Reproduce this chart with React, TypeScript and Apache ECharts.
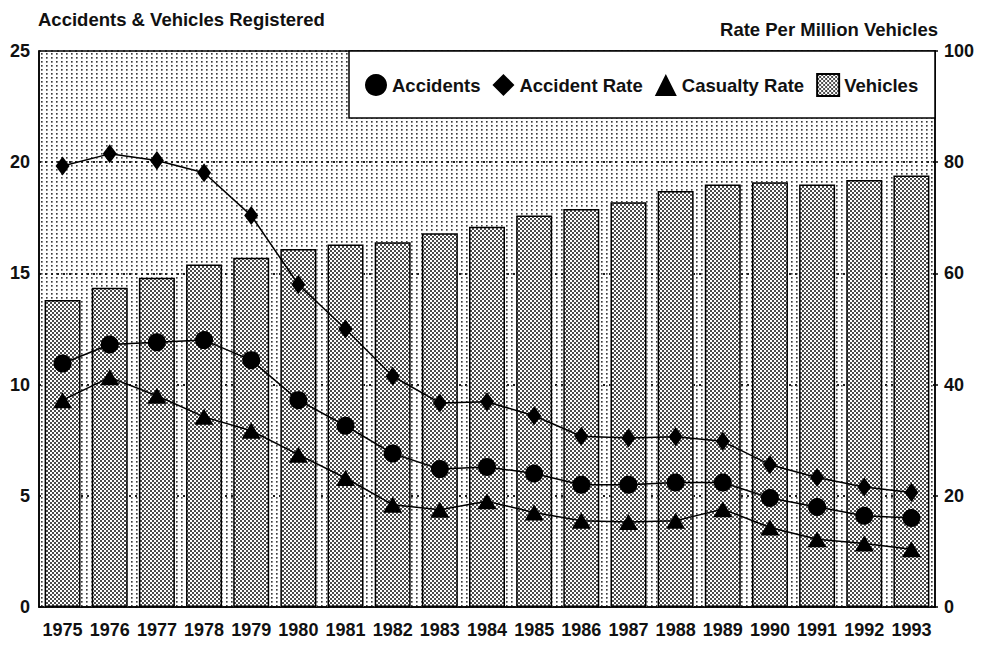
import React, { useEffect, useRef } from "react";
import * as echarts from "echarts";

const years = ["1975", "1976", "1977", "1978", "1979", "1980", "1981", "1982", "1983", "1984", "1985", "1986", "1987", "1988", "1989", "1990", "1991", "1992", "1993"];
const vehicles = [13.8, 14.35, 14.8, 15.4, 15.7, 16.1, 16.3, 16.4, 16.8, 17.1, 17.6, 17.9, 18.2, 18.7, 19.0, 19.1, 19.0, 19.2, 19.4];
const accidents = [10.95, 11.8, 11.9, 12.0, 11.1, 9.3, 8.15, 6.9, 6.2, 6.3, 6.0, 5.5, 5.5, 5.6, 5.6, 4.9, 4.5, 4.1, 4.0];
const accidentRate = [79.3, 81.5, 80.3, 78.1, 70.4, 58.0, 50.0, 41.5, 36.7, 36.9, 34.4, 30.7, 30.4, 30.6, 29.8, 25.6, 23.3, 21.6, 20.6];
const casualtyRate = [37.2, 41.3, 38.0, 34.2, 31.7, 27.4, 23.2, 18.4, 17.5, 19.0, 17.0, 15.5, 15.3, 15.5, 17.6, 14.3, 12.2, 11.4, 10.4];
const leftAxis = { min: 0, max: 25, interval: 5 };
const rightAxis = { min: 0, max: 100, interval: 20 };
const legendNames = ["Accidents", "Accident Rate", "Casualty Rate", "Vehicles"];
const titleLeft = "Accidents & Vehicles Registered";
const titleRight = "Rate Per Million Vehicles";

const FONT = "'Liberation Sans', Arial, Helvetica, sans-serif";

function makePattern(w: number, h: number, dots: number[][], size: number, color: string) {
  const c = document.createElement("canvas");
  c.width = w;
  c.height = h;
  const ctx = c.getContext("2d")!;
  ctx.fillStyle = "#ffffff";
  ctx.fillRect(0, 0, w, h);
  ctx.fillStyle = color;
  dots.forEach(([x, y]) => {
    ctx.beginPath();
    ctx.arc(x + size / 2, y + size / 2, size / 2, 0, Math.PI * 2);
    ctx.fill();
  });
  return { image: c, repeat: "repeat", imageWidth: w, imageHeight: h } as any;
}

export default function App() {
  const ref = useRef<HTMLDivElement>(null);
  useEffect(() => {
    if (!ref.current) return;
    const chart = echarts.init(ref.current, null, { renderer: "svg" });
    const bgPattern = makePattern(5, 4, [[1, 1]], 1.7, "#111");
    const barPattern = makePattern(4, 4, [[0, 0], [2, 2]], 2.0, "#111");
    const label = { fontFamily: FONT, fontWeight: "bold" as const, fontSize: 18, color: "#111" };
    const option: any = {
      animation: false,
      backgroundColor: "#ffffff",
      title: [
        { text: titleLeft, left: 38, top: 10, padding: 0, textStyle: { ...label, fontSize: 18.5 } },
        { text: titleRight, right: 48, top: 20, padding: 0, textStyle: { ...label, fontSize: 18.5 } },
      ],
      grid: {
        left: 39,
        right: 51,
        top: 51,
        bottom: 39,
        show: true,
        backgroundColor: bgPattern,
        borderColor: "#000",
        borderWidth: 1.5,
      },
      graphic: [
        {
          type: "rect",
          z: 10,
          shape: { x: 349, y: 51, width: 586, height: 67 },
          style: { fill: "#fff", stroke: "#000", lineWidth: 1.5 },
        },
      ],
      legend: {
        left: 365,
        top: 73,
        padding: 0,
        z: 20,
        itemWidth: 22,
        itemHeight: 22,
        itemGap: 12,
        selectedMode: false,
        textStyle: { ...label, fontSize: 18.5, padding: [2, 0, 0, 0] },
        data: [
          { name: legendNames[0], icon: "circle" },
          { name: legendNames[1], icon: "diamond" },
          { name: legendNames[2], icon: "triangle" },
          { name: legendNames[3], icon: "rect" },
        ],
      },
      xAxis: {
        type: "category",
        data: years,
        axisLine: { show: true, lineStyle: { color: "#000", width: 1.5 } },
        axisTick: { show: false },
        axisLabel: { ...label, interval: 0, margin: 14 },
        splitLine: { show: false },
      },
      yAxis: [
        {
          type: "value",
          min: leftAxis.min,
          max: leftAxis.max,
          interval: leftAxis.interval,
          axisLine: { show: true, lineStyle: { color: "#000", width: 1.5 } },
          axisTick: { show: false },
          axisLabel: { ...label, margin: 9 },
          splitLine: { show: true, lineStyle: { color: "#222", width: 1.8, type: [2, 4] } },
        },
        {
          type: "value",
          position: "right",
          min: rightAxis.min,
          max: rightAxis.max,
          interval: rightAxis.interval,
          axisLine: { show: true, lineStyle: { color: "#000", width: 1.5 } },
          axisTick: { show: true, length: 3, lineStyle: { color: "#000", width: 1.5 } },
          axisLabel: { ...label, margin: 9 },
          splitLine: { show: false },
        },
      ],
      series: [
        {
          name: "halo",
          type: "bar",
          data: vehicles,
          barWidth: 36,
          barGap: "-100%",
          silent: true,
          z: 2,
          itemStyle: { color: "#fff", borderColor: "#fff", borderWidth: 6 },
        },
        {
          name: legendNames[3],
          type: "bar",
          data: vehicles,
          barWidth: 36,
          barGap: "-100%",
          z: 3,
          itemStyle: { color: barPattern, borderColor: "#000", borderWidth: 1.5 },
        },
        {
          name: legendNames[0],
          type: "line",
          yAxisIndex: 0,
          data: accidents,
          symbol: "circle",
          symbolSize: 18,
          z: 5,
          lineStyle: { color: "#000", width: 1.5 },
          itemStyle: { color: "#000" },
        },
        {
          name: legendNames[1],
          type: "line",
          yAxisIndex: 1,
          data: accidentRate,
          symbol: "diamond",
          symbolSize: [14, 19],
          z: 5,
          lineStyle: { color: "#000", width: 1.5 },
          itemStyle: { color: "#000" },
        },
        {
          name: legendNames[2],
          type: "line",
          yAxisIndex: 1,
          data: casualtyRate,
          symbol: "triangle",
          symbolSize: [19, 16],
          z: 5,
          lineStyle: { color: "#000", width: 1.5 },
          itemStyle: { color: "#000" },
        },
      ],
    };
    chart.setOption(option);
    return () => chart.dispose();
  }, []);
  return <div ref={ref} style={{ width: 986, height: 646, position: "absolute", left: 0, top: 0 }} />;
}
